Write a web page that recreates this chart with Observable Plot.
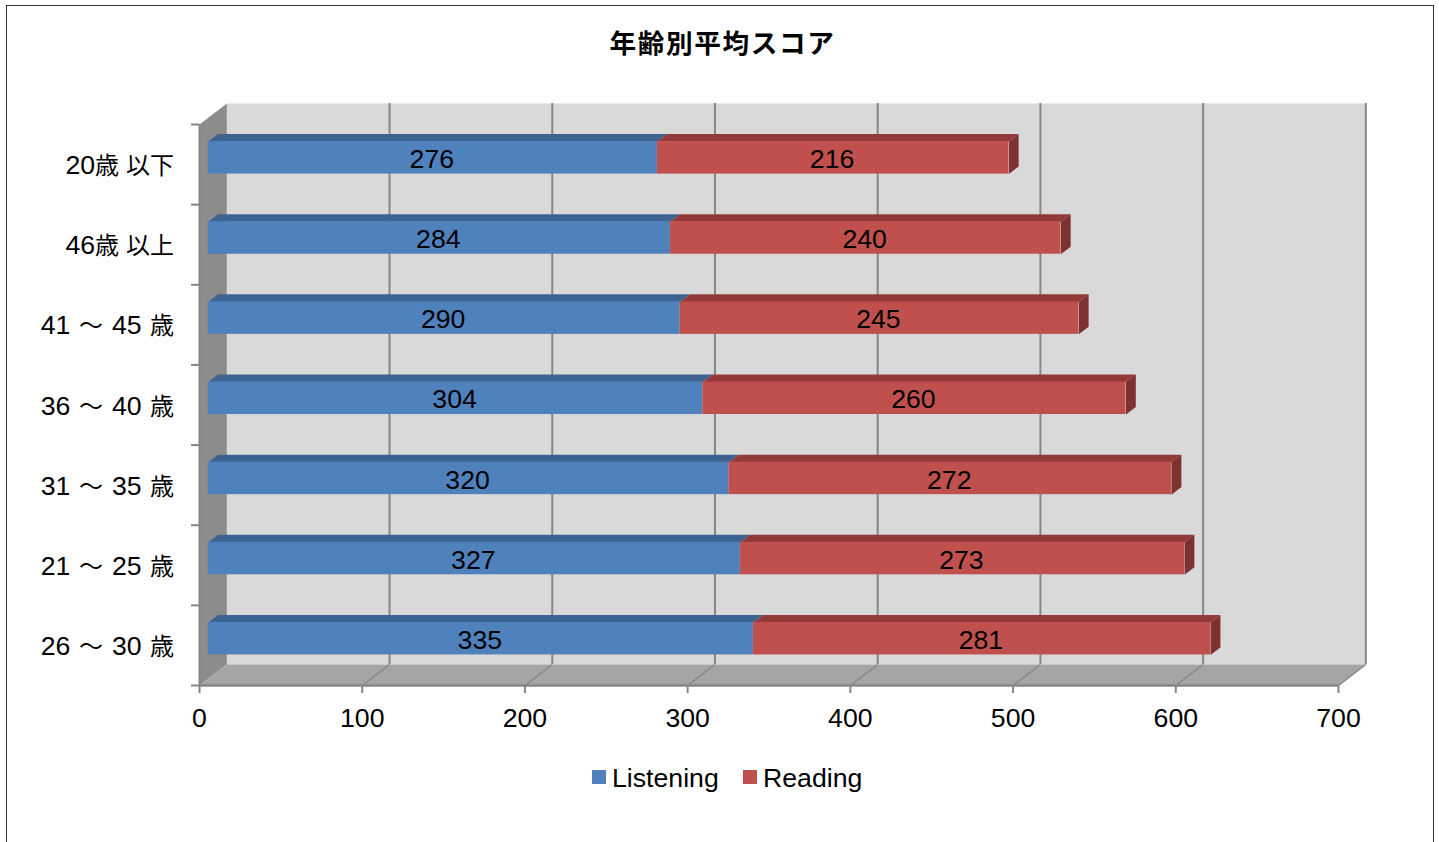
<!DOCTYPE html>
<html lang="ja">
<head>
<meta charset="utf-8">
<script src="https://cdn.jsdelivr.net/npm/d3@7"></script>
<script src="https://cdn.jsdelivr.net/npm/@observablehq/plot@0.6"></script>
<style>
@font-face { font-family: "CJKBody"; src: local("Noto Sans CJK JP"); size-adjust: 90%; }
html, body { margin: 0; padding: 0; background: #fff; overflow: hidden; }
#page { position: relative; width: 1439px; height: 842px; overflow: hidden; font-family: "Liberation Sans", "CJKBody", "Noto Sans CJK JP", sans-serif; color: #000; }
#frame { position: absolute; left: 6px; top: 5px; width: 1426px; height: 900px; border: 1px solid #333; box-sizing: content-box; pointer-events: none; }
#title { height: 90px; padding-top: 25px; box-sizing: border-box; text-align: center; font: 700 26.67px "Noto Sans CJK JP", sans-serif; line-height: 34px; padding-left: 6px; letter-spacing: 1.6px; }
#chart svg { display: block; }
#chart g[aria-label="y-axis tick label"] text { word-spacing: 1.4px; }
#chart g[aria-label="y-axis tick label"] text:nth-child(-n+2) { word-spacing: 0; }
#legend { position: relative; height: 40px; }
#legend span { position: absolute; top: 13px; font-size: 26.67px; line-height: 30px; white-space: nowrap; }
#legend i { position: absolute; top: 20px; width: 14px; height: 14px; }
</style>
</head>
<body>
<div id="page">
  <div id="frame"></div>
  <div id="title">年齢別平均スコア</div>
  <div id="chart"></div>
  <div id="legend"></div>
</div>
<script>
const categories = ["20歳 以下", "46歳 以上", "41 ～ 45 歳", "36 ～ 40 歳", "31 ～ 35 歳", "21 ～ 25 歳", "26 ～ 30 歳"];
const listening = [276, 284, 290, 304, 320, 327, 335];
const reading = [216, 240, 245, 260, 272, 273, 281];
const seriesNames = ["Listening", "Reading"];
const xTicks = [0, 100, 200, 300, 400, 500, 600, 700];

const colors = {
  Listening: {front: "#4f81bd", top: "#3e6391", side: "#355680"},
  Reading: {front: "#c0504d", top: "#923a38", side: "#7f312f"}
};

// Oblique depth of the 3D box, in data units (x value, category band)
const depthX = 16.8, depthY = 0.262;
const barNear = 0.32, barFar = 0.68, barHalf = 0.2025;
const n = categories.length;

const P = (v, band, d) => ({x: v + d * depthX, y: band - d * depthY});

function face(points, fill) {
  return Plot.line(points, {x: "x", y: "y", z: "id", fill, stroke: "none"});
}
function tagged(list) {
  return list.flatMap((pts, id) => pts.map(p => ({...p, id})));
}

const segments = categories.flatMap((c, i) => [
  {i, name: "Listening", start: 0, value: listening[i]},
  {i, name: "Reading", start: listening[i], value: reading[i]}
]);
const seg = name => segments.filter(s => s.name === name);

function topFaces(name) {
  return tagged(seg(name).map(s => {
    const a = s.start, b = s.start + s.value, y = s.i + 0.5 - barHalf;
    return [P(a, y, barNear), P(b, y, barNear), P(b, y, barFar), P(a, y, barFar)];
  }));
}
function sideFaces(name) {
  return tagged(seg(name).map(s => {
    const b = s.start + s.value, y1 = s.i + 0.5 - barHalf, y2 = s.i + 0.5 + barHalf;
    return [P(b, y1, barNear), P(b, y1, barFar), P(b, y2, barFar), P(b, y2, barNear)];
  }));
}
const frontRect = name => Plot.rect(seg(name), {
  x1: s => P(s.start, 0, barNear).x,
  x2: s => P(s.start + s.value, 0, barNear).x,
  y1: s => P(0, s.i + 0.5 - barHalf, barNear).y,
  y2: s => P(0, s.i + 0.5 + barHalf, barNear).y,
  fill: colors[name].front
});

const xMax = xTicks[xTicks.length - 1];
const gridColor = "#868686";

const chart = Plot.plot({
  width: 1439,
  height: 660,
  marginLeft: 199,
  marginRight: 101,
  marginTop: 34,
  marginBottom: 65,
  x: {domain: [0, xMax], range: [199, 1338]},
  y: {domain: [0, n], range: [34, 595]},
  style: {fontFamily: '"Liberation Sans", "CJKBody", "Noto Sans CJK JP", sans-serif', color: "#000", background: "transparent", overflow: "visible"},
  marks: [
    // back wall
    face(tagged([[P(0, 0, 1), P(xMax, 0, 1), P(xMax, n, 1), P(0, n, 1)]]), "#d9d9d9"),
    // left wall
    face(tagged([[P(0, 0, 0), P(0, 0, 1), P(0, n, 1), P(0, n, 0)]]), "#8c8c8c"),
    // floor
    face(tagged([[P(0, n, 0), P(0, n, 1), P(xMax, n, 1), P(xMax, n, 0)]]), "#a5a5a5"),
    // grid on back wall and floor
    Plot.ruleX(xTicks.slice(1), {x: v => P(v, 0, 1).x, y1: P(0, 0, 1).y, y2: P(0, n, 1).y, stroke: gridColor, strokeWidth: 2}),
    Plot.link(xTicks.slice(1), {x1: v => v, y1: n, x2: v => P(v, n, 1).x, y2: P(0, n, 1).y, stroke: gridColor, strokeWidth: 1.5}),
    // axes
    Plot.ruleY([n], {x1: 0, x2: xMax, stroke: gridColor, strokeWidth: 2.5}),
    Plot.ruleX([0], {y1: 0, y2: n, stroke: gridColor, strokeWidth: 2}),
    Plot.axisX(xTicks, {anchor: "bottom", tickSize: 8, tickPadding: 15, stroke: gridColor, strokeWidth: 2, strokeOpacity: 1, fill: "#000", fontSize: 26.67, tickFormat: d => String(d), label: null}),
    Plot.axisY(d3.range(0, n + 1), {anchor: "left", tickSize: 8, stroke: gridColor, strokeWidth: 2, strokeOpacity: 1, tickFormat: null, text: null, label: null}),
    Plot.axisY(d3.range(n).map(i => i + 0.5), {anchor: "left", tickSize: 0, tickPadding: 25, fill: "#000", fontSize: 26.67, tickFormat: v => categories[v - 0.5], label: null, dy: 1}),
    // bars
    face(topFaces("Listening"), colors.Listening.top),
    face(topFaces("Reading"), colors.Reading.top),
    face(sideFaces("Reading"), colors.Reading.side),
    frontRect("Listening"),
    frontRect("Reading"),
    // value labels
    Plot.text(segments, {
      x: s => P(s.start + s.value / 2, 0, barNear).x,
      y: s => P(0, s.i + 0.5, barNear).y,
      text: s => String(s.value),
      fontSize: 26.67,
      fill: "#000",
      dx: -1,
      dy: 1.6
    })
  ]
});
document.getElementById("chart").append(chart);

const legend = document.getElementById("legend");
[[592, 612], [743, 763]].forEach(([sq, tx], k) => {
  const i = document.createElement("i");
  i.style.left = sq + "px";
  i.style.background = colors[seriesNames[k]].front;
  const s = document.createElement("span");
  s.style.left = tx + "px";
  s.textContent = seriesNames[k];
  legend.append(i, s);
});
</script>
</body>
</html>
